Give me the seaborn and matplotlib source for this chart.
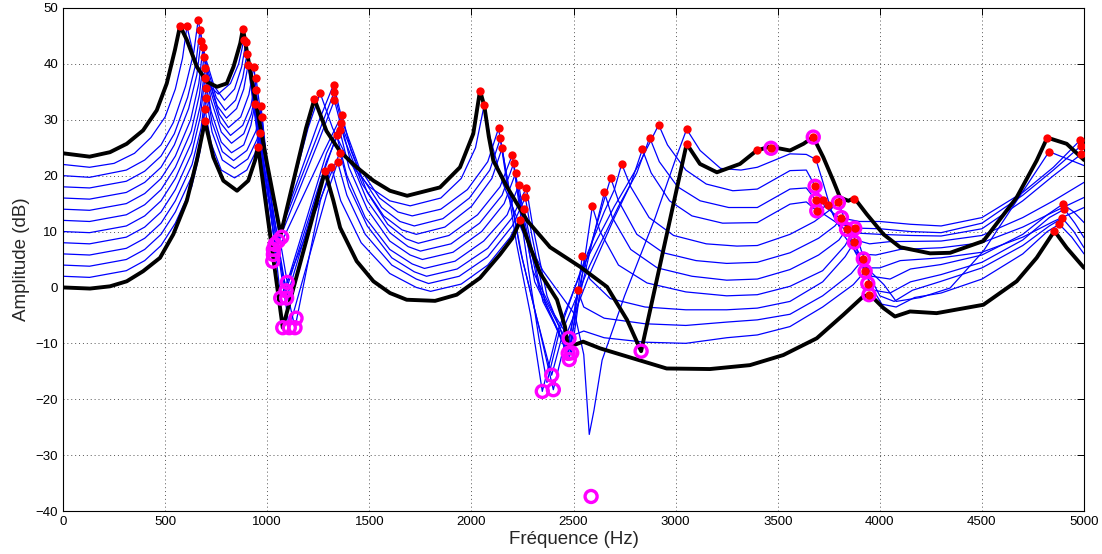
import numpy as np
import pandas as pd
import matplotlib
matplotlib.use('Agg')
import matplotlib.pyplot as plt
import seaborn as sns

# values: (frequency Hz, amplitude dB)
black_top = [(0, 24.0), (130, 23.4), (230, 24.2), (312, 25.7), (392, 28.1), (459, 31.7), (508, 36.5), (548, 42.5), (573, 46.8),
             (606, 44.3), (655, 39.5), (704, 36.8), (754, 35.9), (802, 36.5), (835, 39.5), (868, 43.7), (881, 46.3),
             (930, 36.0), (1000, 22.0), (1066, 9.5), (1190, 28.5), (1231, 33.7),
             (1290, 28.0), (1357, 24.3), (1438, 21.5), (1520, 19.1), (1601, 17.3), (1685, 16.4), (1846, 17.9), (1944, 21.5), (2009, 27.5), (2042, 35.2),
             (2063, 32.5), (2085, 27.0), (2107, 22.7), (2174, 18.0), (2272, 12.0), (2385, 7.2), (2532, 3.7), (2664, 0.1), (2762, -5.8), (2831, -11.4),
             (3054, 25.7), (3119, 22.1), (3202, 20.6), (3315, 22.1), (3397, 24.5), (3462, 25.2), (3560, 24.5), (3626, 25.7), (3674, 26.9),
             (3723, 23.3), (3772, 19.1), (3805, 16.1), (3846, 15.5), (3875, 16.0), (3936, 13.1), (4018, 9.5), (4099, 7.2), (4246, 6.1),
             (4344, 6.2), (4507, 8.3), (4670, 16.1), (4768, 22.7), (4820, 26.8), (4915, 25.7), (5000, 22.8)]

black_low = [(0, 0.0), (132, -0.2), (230, 0.2), (312, 1.1), (392, 2.9), (475, 5.3), (540, 9.5), (606, 15.5), (655, 22.7), (695, 29.7),
             (736, 23.3), (785, 19.1), (852, 17.3), (907, 19.1), (940, 22.7), (955, 25.2),
             (1076, -7.2), (1283, 20.8), (1324, 15.5), (1357, 10.7), (1438, 4.7), (1520, 1.1), (1601, -1.0), (1683, -2.2), (1822, -2.4),
             (1928, -1.3), (2042, 1.7), (2140, 5.9), (2200, 8.8), (2240, 12.0),
             (2290, 7.0), (2336, 2.6), (2419, -2.2), (2458, -7.0), (2473, -10.6), (2510, -10.2), (2547, -9.7), (2630, -10.9), (2793, -12.7),
             (2956, -14.5), (3168, -14.6), (3364, -13.9), (3527, -12.1), (3691, -9.1), (3821, -4.9), (3919, -1.6), (3952, -1.3), (4018, -3.7),
             (4074, -5.2), (4148, -4.3), (4278, -4.6), (4507, -3.1), (4670, 1.1), (4768, 5.3), (4855, 10.1), (4915, 7.1), (5000, 3.5)]

blue_1 = [(0, 22.0), (130, 21.5), (250, 22.2), (350, 24.0), (430, 26.8), (500, 30.5), (550, 35.5), (585, 41.0), (607, 46.7),
          (640, 41.5), (690, 37.0), (760, 34.6), (820, 36.5), (860, 40.0), (886, 44.3),
          (960, 29.0), (1054, 8.3), (1200, 28.5), (1259, 34.8),
          (1320, 28.5), (1400, 22.5), (1500, 18.0), (1600, 15.5), (1700, 14.6), (1850, 16.0), (1950, 19.5), (2020, 25.0), (2063, 32.7),
          (2090, 27.0), (2150, 19.0), (2250, 10.0), (2350, 3.0), (2450, -2.0), (2507, -4.9), (2550, -12.0), (2577, -26.3), (2600, -22.0),
          (2640, -13.0), (2750, -1.5), (2900, 12.5), (3000, 23.0), (3054, 28.3),
          (3120, 24.5), (3220, 21.3), (3320, 21.0), (3400, 21.5), (3560, 23.9), (3640, 23.8), (3687, 22.9), (3720, 19.0), (3760, 14.0),
          (3820, 9.5), (3950, 3.0), (4020, 0.5), (4080, -2.5), (4200, -1.8), (4344, -0.1), (4507, 6.5), (4670, 15.5), (4829, 24.3), (5000, 21.8)]

blue_2 = [(0, 20.0), (130, 19.7), (310, 21.0), (400, 22.8), (480, 25.5), (540, 29.5), (600, 36.0), (640, 42.0), (662, 47.9),
          (690, 42.0), (740, 36.0), (790, 33.5), (840, 35.5), (875, 39.5), (896, 44.0),
          (960, 27.0), (1038, 7.7), (1250, 29.5), (1325, 36.3),
          (1370, 29.5), (1450, 21.5), (1550, 16.0), (1640, 13.5), (1710, 12.8), (1850, 14.0), (1980, 17.5), (2080, 22.5), (2133, 28.5),
          (2160, 22.0), (2220, 8.0), (2290, -5.0), (2347, -18.6), (2420, -8.0), (2550, 4.0), (2700, 14.5), (2820, 22.0), (2917, 29.1),
          (2960, 25.5), (3050, 21.0), (3150, 18.5), (3280, 17.3), (3400, 17.6), (3560, 20.9), (3640, 21.0), (3683, 18.1), (3730, 14.5),
          (3800, 12.5), (3900, 11.8), (4000, 11.8), (4150, 11.3), (4300, 11.0), (4500, 12.5), (4700, 17.0), (4850, 21.5), (4980, 26.3), (5000, 26.6)]

blue_3 = [(0, 18.0), (130, 17.8), (310, 19.0), (400, 20.8), (480, 23.5), (545, 27.5), (610, 34.0), (650, 40.0), (671, 46.1),
          (700, 40.0), (750, 34.0), (795, 31.7), (845, 33.5), (880, 37.5), (901, 41.8),
          (960, 26.0), (1030, 6.8), (1250, 27.5), (1327, 34.9),
          (1375, 28.0), (1460, 20.0), (1560, 14.3), (1650, 11.8), (1720, 11.0), (1860, 12.3), (1990, 16.0), (2090, 21.0), (2142, 26.7),
          (2170, 20.5), (2240, 6.5), (2320, -5.5), (2393, -15.7), (2460, -6.5), (2580, 4.0), (2720, 14.5), (2810, 20.5), (2873, 26.8),
          (2920, 22.5), (3010, 18.0), (3120, 15.5), (3260, 14.3), (3400, 14.3), (3560, 17.6), (3640, 17.8), (3687, 15.6), (3730, 13.0),
          (3800, 11.3), (3900, 10.6), (4000, 10.5), (4150, 10.0), (4300, 9.8), (4500, 11.5), (4700, 16.5), (4850, 21.0), (4984, 25.3), (5000, 25.5)]

blue_4 = [(0, 16.0), (130, 15.8), (310, 17.0), (400, 18.8), (480, 21.5), (545, 25.5), (615, 32.0), (655, 38.0), (676, 44.1),
          (705, 38.5), (755, 32.5), (800, 30.3), (850, 32.0), (885, 35.5), (906, 39.8),
          (960, 25.0), (1030, 5.9), (1250, 26.0), (1329, 33.5),
          (1378, 26.5), (1465, 18.5), (1570, 12.8), (1660, 10.3), (1730, 9.5), (1870, 10.8), (2000, 14.5), (2100, 19.5), (2150, 24.9),
          (2180, 18.5), (2250, 5.0), (2330, -7.0), (2401, -18.3), (2470, -8.0), (2580, 2.5), (2700, 12.5), (2780, 18.5), (2837, 24.7),
          (2880, 20.5), (2970, 15.5), (3080, 12.8), (3230, 11.5), (3400, 11.6), (3560, 14.9), (3640, 15.3), (3691, 13.7), (3748, 14.8),
          (3790, 11.5), (3850, 9.8), (4000, 9.5), (4150, 9.3), (4300, 9.2), (4500, 10.5), (4700, 15.5), (4850, 20.0), (4985, 23.8), (5000, 24.0)]

blue_5 = [(0, 14.0), (130, 13.8), (310, 15.0), (400, 16.8), (480, 19.5), (550, 23.5), (625, 30.0), (665, 36.5), (686, 43.1),
          (715, 37.0), (765, 31.0), (810, 28.6), (870, 30.5), (910, 34.5), (935, 39.5),
          (975, 24.0), (1027, 4.7), (1280, 24.5), (1366, 30.9),
          (1410, 24.5), (1490, 17.0), (1590, 11.3), (1680, 8.7), (1740, 7.9), (1890, 9.3), (2030, 13.0), (2140, 18.0), (2200, 23.7),
          (2225, 17.0), (2280, 3.0), (2330, -9.0), (2370, -17.0), (2430, -8.0), (2540, 3.5), (2650, 13.5), (2700, 17.5), (2736, 22.1),
          (2780, 18.0), (2870, 12.5), (2990, 9.3), (3150, 7.8), (3300, 7.4), (3400, 7.5), (3560, 9.5), (3680, 11.8), (3760, 14.0),
          (3797, 15.2), (3830, 12.0), (3880, 8.5), (3950, 7.8), (4050, 8.2), (4300, 8.3), (4500, 9.3), (4700, 12.5), (4850, 15.5), (5000, 18.8)]

blue_6 = [(0, 12.0), (130, 11.8), (310, 13.0), (400, 14.8), (480, 17.5), (550, 21.5), (628, 28.0), (668, 34.5), (690, 41.3),
          (720, 35.5), (770, 29.5), (820, 27.2), (880, 29.0), (920, 32.5), (945, 37.5),
          (1000, 22.0), (1098, 0.9), (1290, 24.0), (1361, 29.5),
          (1405, 23.0), (1490, 15.5), (1600, 9.8), (1690, 7.3), (1750, 6.5), (1900, 7.8), (2040, 11.5), (2150, 16.5), (2207, 22.2),
          (2235, 15.5), (2300, 3.0), (2400, -4.5), (2478, -9.1), (2540, 2.0), (2620, 12.0), (2682, 19.6),
          (2720, 15.5), (2810, 9.5), (2940, 6.2), (3100, 4.8), (3250, 4.3), (3400, 4.5), (3560, 6.2), (3700, 8.8), (3780, 11.0),
          (3812, 12.5), (3850, 9.5), (3900, 6.0), (3980, 5.8), (4100, 6.8), (4300, 7.1), (4500, 8.0), (4700, 10.8), (4850, 13.5), (5000, 16.1)]

blue_7 = [(0, 10.0), (130, 9.8), (310, 11.0), (400, 12.8), (480, 15.5), (550, 19.5), (630, 26.0), (672, 32.5), (695, 39.3),
          (725, 33.5), (775, 27.8), (825, 25.8), (885, 27.5), (922, 31.0), (945, 35.3),
          (1000, 20.0), (1092, -0.6), (1290, 22.5), (1355, 28.1),
          (1400, 21.5), (1490, 14.0), (1600, 8.3), (1700, 5.8), (1760, 5.0), (1910, 6.3), (2050, 10.0), (2160, 15.0), (2216, 20.4),
          (2245, 14.0), (2310, 1.0), (2410, -6.5), (2474, -11.8), (2530, -1.5), (2600, 9.5), (2651, 17.0),
          (2690, 12.5), (2780, 6.8), (2910, 3.5), (3080, 2.0), (3250, 1.3), (3400, 1.5), (3560, 3.2), (3700, 5.8), (3800, 8.5),
          (3837, 10.4), (3870, 7.0), (3920, 3.5), (4000, 3.5), (4100, 4.8), (4300, 5.3), (4500, 6.3), (4700, 9.0), (4850, 11.8), (5000, 14.3)]

blue_8 = [(0, 8.0), (130, 7.8), (310, 9.0), (400, 10.8), (480, 13.5), (550, 17.5), (630, 24.0), (672, 30.5), (695, 37.5),
          (725, 31.5), (775, 26.0), (825, 24.1), (885, 25.5), (920, 29.0), (940, 32.8),
          (1000, 18.0), (1095, -1.9), (1280, 21.0), (1340, 27.2),
          (1390, 20.0), (1480, 12.5), (1600, 6.8), (1710, 4.2), (1770, 3.4), (1920, 4.7), (2060, 8.3), (2175, 13.0), (2232, 18.3),
          (2260, 12.0), (2330, 0.0), (2430, -7.0), (2491, -11.7), (2540, 1.5), (2592, 14.5),
          (2630, 10.0), (2720, 4.0), (2860, 0.8), (3050, -0.8), (3250, -1.5), (3400, -1.3), (3560, 0.2), (3720, 3.0), (3830, 7.5),
          (3877, 10.6), (3910, 6.5), (3960, 2.0), (4050, 1.5), (4150, 3.3), (4300, 4.1), (4500, 5.8), (4700, 9.5), (4820, 13.0),
          (4896, 14.9), (4950, 13.5), (5000, 11.6)]

blue_9 = [(0, 6.0), (130, 5.8), (310, 7.0), (400, 8.8), (480, 11.5), (550, 15.5), (632, 22.0), (676, 28.5), (700, 35.7),
          (730, 29.5), (780, 24.3), (835, 22.7), (900, 24.5), (945, 28.0), (970, 32.4),
          (1010, 16.0), (1066, -1.9), (1290, 18.5), (1356, 24.1),
          (1400, 18.0), (1490, 11.0), (1610, 5.3), (1720, 2.8), (1780, 2.0), (1930, 3.3), (2080, 7.0), (2200, 12.5), (2269, 17.8),
          (2300, 11.0), (2370, -1.5), (2440, -8.0), (2479, -12.9), (2510, -4.0), (2543, 5.7),
          (2580, 1.5), (2680, -2.0), (2850, -3.5), (3050, -4.0), (3250, -4.0), (3400, -3.7), (3560, -2.5), (3720, 1.0), (3830, 5.5),
          (3875, 8.1), (3910, 4.0), (3970, -0.5), (4050, -1.0), (4150, 1.0), (4300, 2.3), (4500, 4.5), (4700, 8.5), (4830, 12.5),
          (4904, 14.0), (4955, 11.5), (5000, 8.9)]

blue_10 = [(0, 4.0), (130, 3.8), (310, 5.0), (400, 6.8), (480, 9.5), (550, 13.5), (632, 20.0), (676, 26.5), (700, 33.9),
           (730, 27.8), (780, 22.8), (840, 21.3), (905, 23.0), (950, 26.5), (975, 30.5),
           (1030, 12.0), (1108, -7.2), (1290, 16.5), (1345, 22.4),
           (1390, 16.5), (1480, 9.5), (1610, 4.0), (1730, 1.5), (1790, 0.7), (1940, 2.0), (2080, 5.5), (2200, 11.0), (2264, 16.1),
           (2295, 9.5), (2360, -2.5), (2430, -8.5), (2470, -12.0), (2495, -6.0), (2520, -0.5),
           (2550, -3.5), (2650, -5.5), (2850, -6.5), (3050, -6.8), (3250, -6.2), (3400, -5.8), (3560, -4.8), (3720, -1.5), (3860, 2.5),
           (3919, 5.1), (3950, 2.0), (4000, -1.5), (4070, -2.5), (4160, -0.5), (4300, 1.1), (4500, 3.5), (4700, 7.5), (4830, 11.0),
           (4894, 12.4), (4950, 10.0), (5000, 7.1)]

blue_11 = [(0, 2.0), (130, 1.8), (310, 3.0), (400, 4.8), (480, 7.5), (550, 11.5), (630, 18.0), (672, 24.5), (695, 31.9),
           (725, 25.8), (775, 21.0), (840, 19.6), (900, 21.0), (940, 24.0), (964, 27.7),
           (1030, 10.0), (1136, -7.2), (1260, 15.5), (1314, 21.6),
           (1360, 15.5), (1460, 8.0), (1600, 2.5), (1730, 0.0), (1800, -0.7), (1950, 0.6), (2080, 4.0), (2190, 9.0), (2258, 14.0),
           (2290, 8.0), (2350, -2.5), (2420, -7.5), (2468, -11.5), (2500, -8.5), (2550, -7.8),
           (2650, -9.0), (2850, -9.8), (3050, -10.0), (3250, -9.0), (3400, -8.5), (3560, -7.0), (3720, -3.5), (3870, 0.5),
           (3928, 2.9), (3960, 0.0), (4010, -3.0), (4080, -3.5), (4170, -1.8), (4300, -1.0), (4500, 1.5), (4700, 6.0), (4820, 10.0),
           (4879, 11.3), (4940, 9.0), (5000, 6.0)]

# red dots (peaks)
peak_hz = [573, 607, 662, 671, 676, 686, 690, 695, 695, 700, 700, 695, 695,
           881, 886, 896, 901, 906, 935, 945, 945, 940, 970, 975, 964, 955,
           1231, 1259, 1325, 1327, 1329, 1366, 1361, 1355, 1340, 1356, 1345, 1314, 1283,
           2042, 2063, 2133, 2142, 2150, 2200, 2207, 2216, 2232, 2269, 2264, 2258, 2240,
           2520, 2543, 2592, 2651, 2682, 2736, 2837, 2873, 2917, 3054, 3054,
           3397, 3467, 3674, 3687, 3683, 3687, 3691, 3723, 3748, 3797, 3875, 3812, 3837, 3877, 3875, 3919, 3928, 3941, 3947,
           4820, 4829, 4980, 4984, 4985, 4896, 4904, 4894, 4879, 4855]
peak_db = [46.8, 46.7, 47.9, 46.1, 44.1, 43.1, 41.3, 39.3, 37.5, 35.7, 33.9, 31.9, 29.7,
           46.3, 44.3, 44.0, 41.8, 39.8, 39.5, 37.5, 35.3, 32.8, 32.4, 30.5, 27.7, 25.2,
           33.7, 34.8, 36.3, 34.9, 33.5, 30.9, 29.5, 28.1, 27.2, 24.1, 22.4, 21.6, 20.8,
           35.2, 32.7, 28.5, 26.7, 24.9, 23.7, 22.2, 20.4, 18.3, 17.8, 16.1, 14.0, 12.0,
           -0.5, 5.7, 14.5, 17.0, 19.6, 22.1, 24.7, 26.8, 29.1, 28.3, 25.7,
           24.6, 24.9, 26.9, 22.9, 18.1, 15.6, 13.7, 15.6, 14.8, 15.2, 15.9, 12.5, 10.4, 10.6, 8.1, 5.1, 2.9, 0.7, -1.3,
           26.8, 24.3, 26.3, 25.3, 23.8, 14.9, 14.0, 12.4, 11.3, 10.1]

# magenta circles (dips)
dip_hz = [1071, 1054, 1038, 1030, 1030, 1027, 1098, 1092, 1066, 1095, 1141, 1076, 1108, 1136,
          2347, 2393, 2401, 2478, 2474, 2491, 2479, 2831, 2586,
          3467, 3674, 3683, 3687, 3691, 3797, 3812, 3837, 3877, 3875, 3919, 3928, 3941, 3947]
dip_db = [9.0, 8.3, 7.7, 6.8, 5.9, 4.7, 0.9, -0.6, -1.9, -1.9, -5.5, -7.2, -7.2, -7.2,
          -18.6, -15.7, -18.3, -9.1, -11.8, -11.7, -12.9, -11.4, -37.4,
          24.9, 26.9, 18.1, 15.6, 13.7, 15.2, 12.5, 10.4, 10.6, 8.1, 5.1, 2.9, 0.7, -1.3]

x_ticks = [0, 500, 1000, 1500, 2000, 2500, 3000, 3500, 4000, 4500, 5000]
y_ticks = [-40, -30, -20, -10, 0, 10, 20, 30, 40, 50]

blue_curves = [blue_1, blue_2, blue_3, blue_4, blue_5, blue_6, blue_7, blue_8, blue_9, blue_10, blue_11]
black_curves = [black_top, black_low]

sns.set_style('white')
plt.rcParams['font.family'] = ['Liberation Sans', 'DejaVu Sans']

fig, ax = plt.subplots(figsize=(11.02, 5.54), dpi=100)
fig.subplots_adjust(left=0.0572, right=0.9837, top=0.9856, bottom=0.0776)

# thin blue curves first, thick black on top
for pts in blue_curves:
    df = pd.DataFrame(pts, columns=['hz', 'db'])
    sns.lineplot(data=df, x='hz', y='db', ax=ax, color='#0000ff', linewidth=0.9, sort=False, estimator=None, legend=False)

for pts in black_curves:
    df = pd.DataFrame(pts, columns=['hz', 'db'])
    sns.lineplot(data=df, x='hz', y='db', ax=ax, color='black', linewidth=2.8, sort=False, estimator=None, legend=False)

sns.scatterplot(x=dip_hz, y=dip_db, ax=ax, marker='o', s=75, facecolor='none', edgecolor='#ff00ff', linewidth=2.4, zorder=4)
sns.scatterplot(x=peak_hz, y=peak_db, ax=ax, marker='o', s=36, color='#ff0000', edgecolor='#ff0000', linewidth=0, zorder=5)

ax.set_xlim(0, 5000)
ax.set_ylim(-40, 50)
ax.set_xticks(x_ticks)
ax.set_yticks(y_ticks)
ax.grid(True, linestyle=(0, (1, 3)), color='#555555', linewidth=0.7)
ax.tick_params(direction='in', top=True, right=True, length=5, width=0.7, labelsize=9.5, colors='black')
for s in ax.spines.values():
    s.set_color('black')
    s.set_linewidth(0.8)
ax.set_xlabel('Fréquence (Hz)', fontsize=13.5, labelpad=2)
ax.set_ylabel('Amplitude (dB)', fontsize=13.5, labelpad=4)

fig.savefig('out.png', dpi=100)
